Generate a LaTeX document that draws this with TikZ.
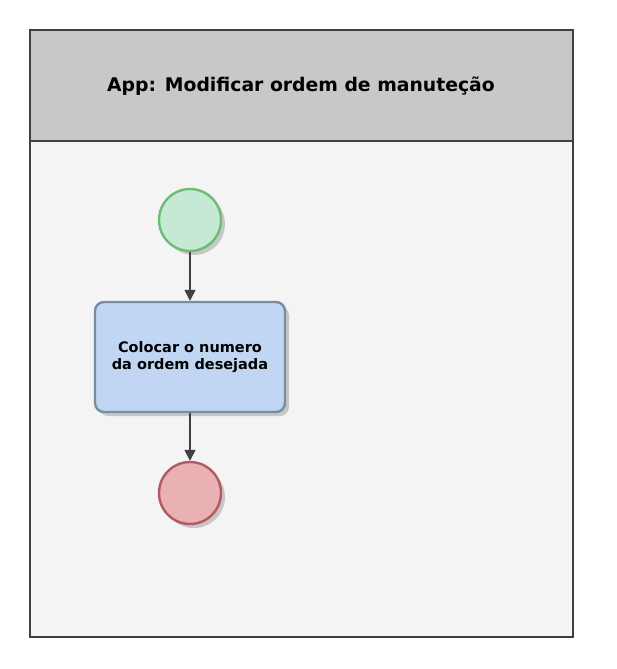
\documentclass[tikz,border=0pt]{standalone}
\usepackage{fontspec}
\setmainfont{DejaVu Sans}
\usetikzlibrary{arrows.meta}
\usetikzlibrary{shadows}
\definecolor{raia}{HTML}{F4F4F4}
\definecolor{cabec}{HTML}{C8C8C8}
\definecolor{borda}{HTML}{404040}
\definecolor{iniciofill}{HTML}{C6E9D5}
\definecolor{iniciodraw}{HTML}{6CBC72}
\definecolor{fimfill}{HTML}{E9B1B3}
\definecolor{fimdraw}{HTML}{B05B62}
\definecolor{tarefafill}{HTML}{C0D6F3}
\definecolor{tarefadraw}{HTML}{7B8C9E}
\tikzset{x=1pt,y=-1pt,
    sombra/.style={drop shadow={shadow xshift=4pt,shadow yshift=-4pt,
        fill=black!22,opacity=1}},
    evento/.style={
        circle,
        minimum size=62pt,
        line width=2.4pt,
        sombra},
    tarefa/.style={
        rectangle,
        rounded corners=9pt,
        minimum width=190pt,
        minimum height=110pt,
        align=center,
        line width=2.4pt,
        fill=tarefafill,
        draw=tarefadraw,
        font=\bfseries\fontsize{14.5}{17}\selectfont,
        sombra},
    every edge/.style={
        draw=borda,
        ->,>={Triangle[length=11pt,width=11pt]},
        line width=1.6pt}}
\begin{document}
\begin{tikzpicture}
        \useasboundingbox (0,0) rectangle (616,669);
        % raia
        \draw[borda,line width=2pt,fill=raia] (30,30) rectangle (573,637);
        \draw[borda,line width=2.8pt,fill=cabec] (30,30) rectangle (573,141);
        \node[font=\bfseries\fontsize{18.8}{22}\selectfont] (titulo) at (301,86) {App: Modificar ordem de manuteção};

        \node[evento,fill=iniciofill,draw=iniciodraw] (inicio) at (190,220) {};
        \node[tarefa] (tarefa) at (190,357) {Colocar o numero\\da ordem desejada};
        \node[evento,fill=fimfill,draw=fimdraw] (fim) at (190,493) {};

        \draw (inicio) edge[] (tarefa);
        \draw (tarefa) edge[] (fim);
    \end{tikzpicture}
\end{document}
